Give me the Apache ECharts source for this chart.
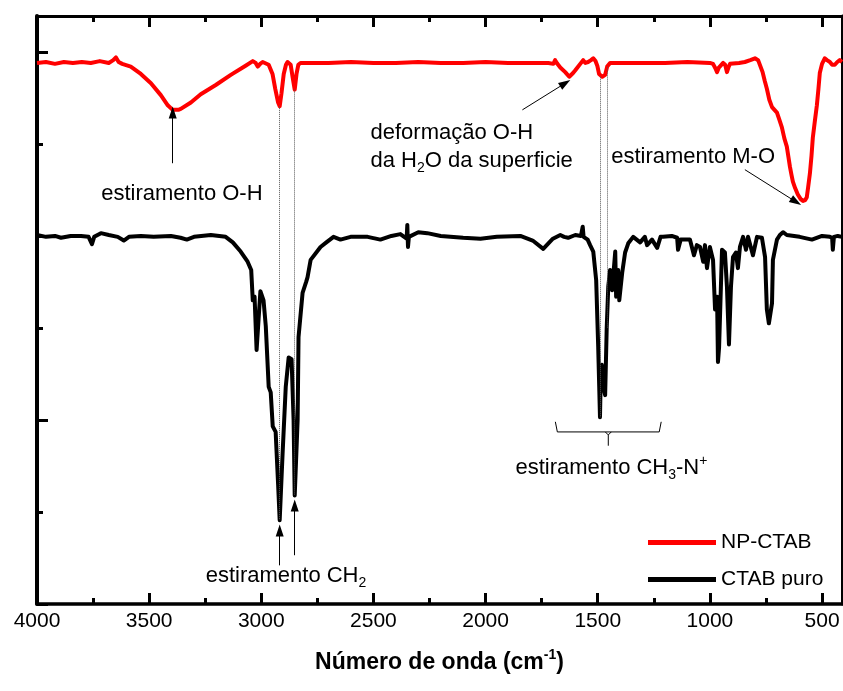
<!DOCTYPE html>
<html><head><meta charset="utf-8">
<script src="https://cdn.jsdelivr.net/npm/echarts@6/dist/echarts.min.js"></script>
<style>html,body{margin:0;padding:0;background:#fff}#main{width:843px;height:691px}</style>
</head><body><div id="main"></div>
<script>
// ---- data (wavenumber cm-1, relative transmittance) ----
const xTickInterval = 500;
const seriesNames = ['NP-CTAB', 'CTAB puro'];
const npCtab = [[4000,58.8],[3960,58.9],[3920,58.7],[3880,58.9],[3840,58.8],[3800,58.9],[3760,58.8],[3720,59.0],[3680,58.8],[3660,59.1],[3648,59.4],[3636,58.9],[3620,58.7],[3582,58.4],[3537,57.6],[3492,56.6],[3448,55.3],[3417,54.2],[3395,53.7],[3370,53.7],[3359,53.8],[3314,54.5],[3270,55.4],[3203,56.4],[3136,57.5],[3070,58.5],[3038,59.0],[3025,58.8],[3016,58.4],[3005,58.7],[2994,58.9],[2967,58.6],[2950,57.6],[2938,56.0],[2925,54.5],[2918,54.1],[2910,55.5],[2900,57.6],[2890,58.6],[2883,58.9],[2869,58.6],[2860,57.2],[2851,55.9],[2843,57.6],[2835,58.6],[2825,58.8],[2700,58.8],[2600,58.9],[2500,58.8],[2400,58.8],[2300,58.9],[2200,58.8],[2100,58.8],[2000,58.9],[1900,58.8],[1800,58.8],[1720,58.8],[1698,58.7],[1690,59.1],[1680,58.7],[1667,58.3],[1645,57.8],[1627,57.3],[1610,57.7],[1600,58.0],[1578,58.7],[1565,59.1],[1555,58.8],[1543,58.9],[1530,59.1],[1520,59.3],[1510,59.0],[1502,58.5],[1494,57.6],[1480,57.3],[1467,57.5],[1458,58.4],[1445,58.8],[1436,58.8],[1300,58.8],[1200,58.8],[1100,58.9],[1000,58.8],[986,58.7],[975,58.2],[968,57.8],[960,58.3],[955,58.5],[941,58.8],[932,58.6],[924,57.8],[916,58.4],[910,58.7],[870,58.8],[844,58.9],[820,59.1],[799,59.3],[785,59.1],[777,58.9],[765,57.8],[755,56.8],[746,56.0],[735,54.8],[723,54.0],[712,53.7],[701,53.4],[690,52.6],[679,51.8],[668,50.6],[657,49.7],[650,48.6],[643,47.5],[636,46.6],[630,45.9],[620,45.2],[608,44.5],[595,44.0],[585,43.8],[575,43.9],[568,44.2],[562,45.3],[554,46.8],[547,48.7],[541,50.7],[532,52.5],[523,54.2],[516,56.0],[510,57.7],[500,58.7],[488,59.3],[478,59.1],[465,58.9],[455,58.6],[443,58.6],[432,58.9],[421,59.1],[411,58.9]];
const ctabPuro = [[4000,40.1],[3960,39.9],[3920,40.0],[3893,39.8],[3850,40.0],[3804,40.0],[3770,39.9],[3755,39.1],[3745,39.9],[3715,40.3],[3680,40.1],[3640,39.9],[3613,39.5],[3590,39.9],[3537,40.0],[3480,39.9],[3403,40.0],[3360,39.8],[3332,39.6],[3300,39.9],[3225,40.1],[3159,39.9],[3127,39.3],[3092,38.3],[3061,37.2],[3045,36.3],[3038,33.0],[3030,33.4],[3021,27.6],[3012,31.0],[3004,34.0],[2998,34.1],[2990,33.0],[2980,30.2],[2967,23.6],[2958,23.0],[2949,19.3],[2936,18.7],[2925,13.0],[2918,9.1],[2905,16.4],[2891,23.6],[2878,26.8],[2865,26.6],[2856,20.0],[2851,11.8],[2838,20.0],[2834,29.0],[2816,33.8],[2800,35.0],[2794,35.5],[2780,37.4],[2736,38.8],[2710,39.3],[2678,39.9],[2647,39.6],[2602,39.9],[2526,39.9],[2469,39.6],[2420,40.0],[2380,40.2],[2352,39.7],[2349,41.2],[2346,38.8],[2342,39.9],[2300,40.4],[2260,40.3],[2200,40.0],[2100,39.8],[2023,39.7],[1950,39.9],[1845,40.0],[1790,39.5],[1743,38.6],[1720,39.2],[1700,39.7],[1667,40.1],[1650,39.9],[1632,39.8],[1600,40.1],[1575,40.0],[1567,41.0],[1563,39.9],[1545,39.6],[1534,39.0],[1520,38.3],[1507,35.2],[1498,28.0],[1490,20.3],[1486,25.5],[1482,26.0],[1474,23.5],[1467,22.7],[1460,30.0],[1453,34.5],[1445,36.3],[1436,34.1],[1422,38.3],[1418,33.4],[1409,36.3],[1404,33.0],[1391,36.0],[1378,38.2],[1364,39.2],[1342,39.9],[1311,39.3],[1290,39.9],[1280,39.0],[1258,39.6],[1235,38.7],[1220,39.9],[1209,39.9],[1170,40.0],[1146,39.8],[1142,38.5],[1130,39.6],[1111,39.6],[1089,39.6],[1071,37.9],[1058,39.0],[1044,38.8],[1030,37.2],[1022,39.0],[1013,36.5],[1000,38.8],[986,37.4],[977,32.0],[968,33.4],[964,26.3],[959,27.9],[946,38.5],[933,38.2],[924,34.5],[915,28.2],[906,34.5],[897,37.7],[884,38.2],[875,36.5],[866,38.8],[852,39.9],[839,38.5],[830,39.9],[808,37.9],[790,39.9],[768,39.8],[754,37.7],[746,32.0],[737,30.5],[723,32.7],[719,37.4],[701,39.6],[688,40.1],[674,40.4],[657,40.1],[600,39.9],[545,39.6],[500,40.0],[465,39.9],[455,39.8],[452,38.5],[447,39.9],[430,40.0],[411,39.9]];
// dotted guide lines: [wavenumber, top value, bottom value]
const guideLines = [[2918,54.1,9.1],[2851,55.9,11.8],[1490,57.3,20.3],[1458,58.4,30.0]];
// arrows: [fromWave, fromVal, toWave, toVal]
const arrows = [[3395,47.9,3395,53.4],[1836,53.7,1645,56.6],[844,47.2,616,43.7],[2918,4.2,2918,8.0],[2851,5.3,2851,10.7]];
// annotation texts: anchor wavenumber/value
const notes = [
  {text:'{n|estiramento O-H}', w:3354, v:44.6, align:'center'},
  {text:'{n|deformação O-H}\n{n|da H}{sub|2}{n|O da superficie}', w:2513, v:49.7, align:'left'},
  {text:'{n|estiramento M-O}', w:1440, v:48.6, align:'left'},
  {text:'{n|estiramento CH}{sub|2}', w:3248, v:3.0, align:'left'},
  {text:'{n|estiramento CH}{sub|3}{n|-N}{sup|+}', w:1867, v:14.8, align:'left'}
];
// brace under CH3-N+ bands: [leftWave, rightWave, topVal, lineVal, notchVal]
const brace = [1689, 1217, 19.8, 18.7, 17.2];

const X_MIN = 4000, X_MAX = 411, Y_MIN = 0, Y_MAX = 63.9;
const FONT = 'Arial, "Liberation Sans", sans-serif';
const chart = echarts.init(document.getElementById('main'), null, {renderer:'canvas'});
const axisCommon = {
  type:'value', min:-X_MIN, max:-X_MAX, interval:xTickInterval,
  splitLine:{show:false}, minorSplitLine:{show:false}
};
const tickStyle = {width:3, color:'#000'};
const option = {
  animation:false,
  backgroundColor:'#fff',
  grid:{left:37, right:1, top:16, bottom:87, outerBoundsMode:'none', containLabel:false},
  legend:{
    data:seriesNames, orient:'vertical', left:643, top:527,
    itemWidth:68, itemHeight:5, itemGap:16, icon:'rect',
    textStyle:{fontSize:21, color:'#000', fontFamily:FONT}
  },
  xAxis:[
    Object.assign({}, axisCommon, {
      position:'bottom',
      axisLine:{show:true, onZero:false, lineStyle:{color:'#000', width:3.5}},
      axisTick:{show:true, inside:true, length:11, lineStyle:tickStyle},
      minorTick:{show:true, splitNumber:2, length:6, lineStyle:tickStyle},
      axisLabel:{show:true, formatter:v => (v % xTickInterval === 0 ? String(-v) : ''), fontSize:21, color:'#000', fontFamily:FONT, margin:7, hideOverlap:false},
      name:'{b|Número de onda (cm}{s|-1}{b|)}', nameLocation:'middle', nameGap:44,
      nameTextStyle:{rich:{
        b:{fontSize:23, fontWeight:'bold', color:'#000', fontFamily:FONT, lineHeight:30},
        s:{fontSize:14, fontWeight:'bold', color:'#000', fontFamily:FONT, lineHeight:16, verticalAlign:'top'}
      }}
    }),
    Object.assign({}, axisCommon, {
      position:'top',
      axisLine:{show:true, onZero:false, lineStyle:{color:'#000', width:3}},
      axisTick:{show:true, inside:true, length:11, lineStyle:tickStyle},
      minorTick:{show:true, splitNumber:2, length:6, lineStyle:tickStyle},
      axisLabel:{show:false}
    })
  ],
  yAxis:[
    {type:'value', min:Y_MIN, max:Y_MAX, interval:20, position:'left',
     splitLine:{show:false}, minorSplitLine:{show:false},
     axisLine:{show:true, onZero:false, lineStyle:{color:'#000', width:4}},
     axisTick:{show:true, inside:true, length:11, lineStyle:tickStyle},
     minorTick:{show:true, splitNumber:2, length:6, lineStyle:tickStyle},
     axisLabel:{show:false}},
    {type:'value', min:Y_MIN, max:Y_MAX, interval:20, position:'right',
     splitLine:{show:false},
     axisLine:{show:true, onZero:false, lineStyle:{color:'#000', width:3}},
     axisTick:{show:false}, axisLabel:{show:false}}
  ],
  series:[
    {name:seriesNames[0], type:'line', symbol:'none', color:'#ff0000',
     lineStyle:{width:4, color:'#ff0000', join:'round'},
     data:npCtab.map(p => [-p[0], p[1]]),
     markLine:{silent:true, symbol:'none', animation:false,
       label:{show:false},
       lineStyle:{type:'dotted', color:'#555', width:1},
       emphasis:{disabled:true},
       data:guideLines.map(g => [{coord:[-g[0], g[1]]},{coord:[-g[0], g[2]]}])}
    },
    {name:seriesNames[1], type:'line', symbol:'none', color:'#000',
     lineStyle:{width:4, color:'#000', join:'round'},
     data:ctabPuro.map(p => [-p[0], p[1]]),
     markLine:{silent:true, symbol:['none','triangle'], symbolSize:[8,12], animation:false,
       label:{show:false},
       lineStyle:{type:'solid', color:'#000', width:1},
       emphasis:{disabled:true},
       data:arrows.map(a => [{coord:[-a[0], a[1]]},{coord:[-a[2], a[3]]}])}
    }
  ]
};
chart.setOption(option);

function px(w, v){ return chart.convertToPixel({xAxisIndex:0, yAxisIndex:0}, [-w, v]); }
const richStyles = {
  n:{fontSize:22, color:'#000', fontFamily:FONT, lineHeight:28},
  sub:{fontSize:14, color:'#000', fontFamily:FONT, lineHeight:14, verticalAlign:'bottom'},
  sup:{fontSize:14, color:'#000', fontFamily:FONT, lineHeight:14, verticalAlign:'top'}
};
const graphics = notes.map(n => {
  const p = px(n.w, n.v);
  return {type:'text', x:p[0], y:p[1], silent:true,
    style:{text:n.text, rich:richStyles, align:n.align, verticalAlign:'middle'}};
});
const bl = px(brace[0], brace[2]), br = px(brace[1], brace[2]);
const yl = px(brace[0], brace[3])[1], yn = px(brace[0], brace[4])[1];
const cx = (bl[0] + br[0]) / 2;
graphics.push({type:'polyline', silent:true,
  shape:{points:[[bl[0], bl[1]],[bl[0]+2, yl],[br[0]-2, yl],[br[0], br[1]]]},
  style:{stroke:'#000', lineWidth:1, fill:null}});
graphics.push({type:'polyline', silent:true,
  shape:{points:[[cx-3, yl],[cx, yl+3],[cx+3, yl]]},
  style:{stroke:'#000', lineWidth:1, fill:null}});
graphics.push({type:'line', silent:true,
  shape:{x1:cx, y1:yl+3, x2:cx, y2:yn},
  style:{stroke:'#000', lineWidth:1}});
chart.setOption({graphic:graphics});
</script>
</body></html>
